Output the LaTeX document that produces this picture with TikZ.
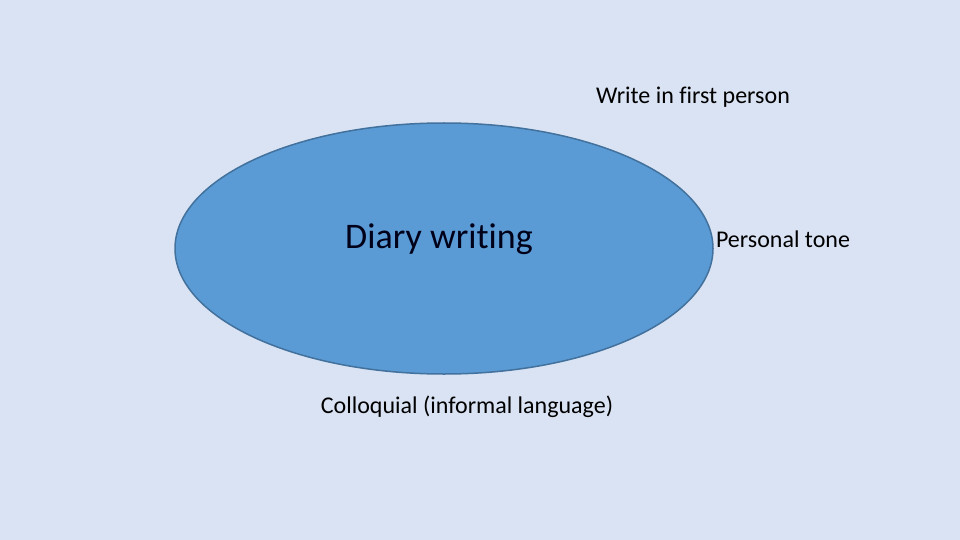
\documentclass[tikz,border=0pt]{standalone}
\usepackage{fontspec}
\setmainfont{Carlito}[Ligatures={NoCommon}]
\usetikzlibrary{shapes.geometric}
\definecolor{bgc}{HTML}{DAE3F3}
\definecolor{ellfill}{HTML}{5B9BD5}
\definecolor{elldraw}{HTML}{41719C}
\tikzset{
  lbl/.style={font=\fontsize{24}{28}\selectfont, text=black, inner sep=0pt},
  biglbl/.style={font=\fontsize{36}{42}\selectfont, text=black!90!blue, inner sep=0pt}
}
\begin{document}
\begin{tikzpicture}[x=1pt,y=-1pt]
\fill[bgc] (0,0) rectangle (960,540);
\useasboundingbox (0,0) rectangle (960,540);
\node[ellipse, draw=elldraw, line width=1.5pt, fill=ellfill, minimum width=538pt, minimum height=251pt, inner sep=0pt] (ell) at (444,248.5) {};
\node[biglbl] (diary) at (439,239) {Diary writing};
\node[lbl] (first) at (693,97) {Write in first person};
\node[lbl] (tone) at (783,239) {Personal tone};
\node[lbl] (coll) at (467,407) {Colloquial (informal language)};
\end{tikzpicture}
\end{document}
